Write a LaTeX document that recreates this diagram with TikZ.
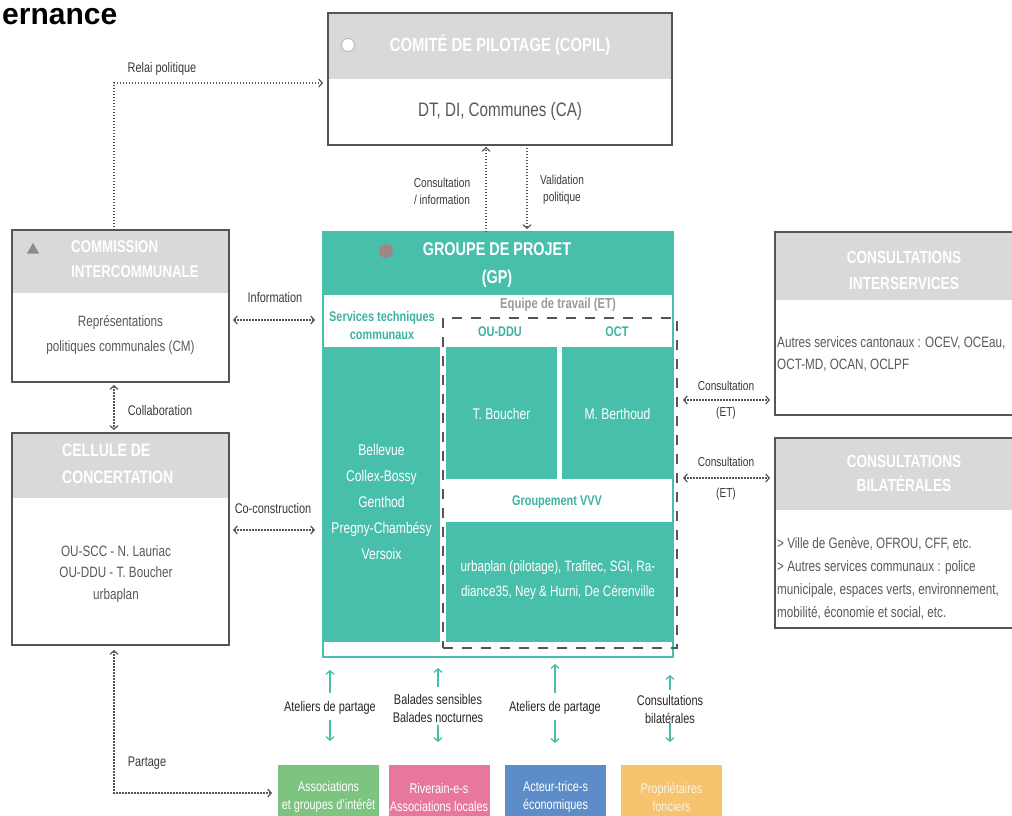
\documentclass[tikz,border=0pt]{standalone}
\usepackage{fontspec}
\setmainfont{Liberation Sans}[FakeStretch=0.78]
\newfontfamily\titlefont{Liberation Sans}
\usetikzlibrary{arrows.meta,shapes.geometric}
\definecolor{teal1}{HTML}{47BFAB}
\definecolor{ttxt}{HTML}{3DB3A0}
\definecolor{hdr}{HTML}{D9D9D9}
\definecolor{bord}{HTML}{555555}
\definecolor{txtg}{HTML}{595959}
\definecolor{lbl}{HTML}{3A3A3A}
\definecolor{etgray}{HTML}{9A9A9A}
\definecolor{gpdot}{HTML}{A08585}
\definecolor{trig}{HTML}{8C8C8C}
\definecolor{cgreen}{HTML}{7DC481}
\definecolor{cpink}{HTML}{E8779C}
\definecolor{cblue}{HTML}{5D8DC8}
\definecolor{corange}{HTML}{F6C46F}
\newcommand\fsz[2]{\fontsize{#1}{#2}\selectfont}
\begin{document}
\begin{tikzpicture}[x=1pt,y=-1pt,
  >={Straight Barb[length=3.5pt,width=8pt]},
  frame/.style={draw=bord,line width=1.3pt},
  plain/.style={inner sep=0pt,outer sep=0pt},
  hdrtxt/.style={text=white,font=\bfseries\fsz{17.5}{25},align=center,inner sep=0pt},
  bodytxt/.style={text=txtg,font=\fsz{15}{23},inner sep=0pt},
  lab/.style={text=lbl,font=\fsz{14}{17},align=center,inner sep=0pt},
  blab/.style={text=black!85,font=\fsz{14}{18},align=center,inner sep=0pt},
  darr/.style={draw=bord,line width=1.2pt,dash pattern=on 1.2pt off 1.8pt},
  tarr/.style={draw=teal1,line width=1.3pt,->},
  gptxt/.style={text=white,font=\fsz{15.5}{25.8},align=center,inner sep=0pt},
  gpsub/.style={text=ttxt,font=\bfseries\fsz{14}{18},align=center,inner sep=0pt},
  tealblk/.style={fill=teal1,inner sep=0pt,outer sep=0pt},
  hdrblk/.style={fill=hdr,inner sep=0pt,outer sep=0pt},
  stake/.style={inner sep=0pt,outer sep=0pt,text=white,font=\fsz{14}{18},align=center,minimum width=101pt,minimum height=64pt}
]
\useasboundingbox (0,0) rectangle (1012,816);
\clip (0,0) rectangle (1012,816);
\fill[white] (0,0) rectangle (1012,816);

% title
\node[anchor=base west,inner sep=0pt,font=\titlefont\bfseries\fsz{30}{30}] (title) at (2,25) {ernance};

% COPIL
\node[plain,fill=white,minimum width=344pt,minimum height=132pt] (copil) at (500,79) {};
\node[hdrblk,minimum width=344pt,minimum height=66pt] (copilh) at (500,46) {};
\draw[frame] (copil.north west) rectangle (copil.south east);
\node[circle,fill=white,draw=black!30,line width=0.8pt,minimum size=13pt,inner sep=0pt] (copildot) at (348,45) {};
\node[hdrtxt,font=\bfseries\fsz{19}{24}] (copilt) at (500,45) {COMITÉ DE PILOTAGE (COPIL)};
\node[bodytxt,font=\fsz{19.5}{24}] (copilb) at (500,111) {DT, DI, Communes (CA)};

% Commission intercommunale
\node[plain,fill=white,minimum width=217pt,minimum height=152pt] (comm) at (120.5,306) {};
\node[hdrblk,minimum width=217pt,minimum height=63pt] (commh) at (120.5,261.5) {};
\draw[frame] (comm.north west) rectangle (comm.south east);
\node[regular polygon,regular polygon sides=3,fill=trig,minimum size=14pt,inner sep=0pt] (commtri) at (33,250) {};
\node[hdrtxt,align=left,anchor=west,font=\bfseries\fsz{17}{25}] (commt) at (71,259.5) {COMMISSION\\INTERCOMMUNALE};
\node[bodytxt,align=center,font=\fsz{15}{25}] (commb) at (120.5,335.5) {Représentations\\politiques communales (CM)};

% Cellule de concertation
\node[plain,fill=white,minimum width=217pt,minimum height=212pt] (cell) at (120.5,539) {};
\node[hdrblk,minimum width=217pt,minimum height=65pt] (cellh) at (120.5,465.5) {};
\draw[frame] (cell.north west) rectangle (cell.south east);
\node[hdrtxt,align=left,anchor=west,font=\bfseries\fsz{18}{27}] (cellt) at (62,463.5) {CELLULE DE\\CONCERTATION};
\node[bodytxt,align=center,font=\fsz{15}{21.5}] (cellb) at (116,574) {OU-SCC - N. Lauriac\\OU-DDU - T. Boucher\\urbaplan};

% Groupe de projet
\node[plain,fill=white,minimum width=350pt,minimum height=425pt] (gp) at (498,444.5) {};
\node[tealblk,minimum width=350pt,minimum height=63pt] (gph) at (498,263.5) {};
\node[tealblk,minimum width=117pt,minimum height=295pt] (stc) at (381.5,494.5) {};
\node[tealblk,minimum width=111pt,minimum height=132pt] (tbb) at (501.5,413) {};
\node[tealblk,minimum width=111pt,minimum height=132pt] (mbb) at (617.5,413) {};
\node[tealblk,minimum width=227pt,minimum height=120pt] (vvvb) at (559.5,582) {};
\draw[draw=teal1,line width=1.5pt] (gp.north west) rectangle (gp.south east);
\node[plain,draw=bord,line width=2pt,dash pattern=on 10pt off 9pt,minimum width=234pt,minimum height=330pt] (et) at (560,483) {};

\node[circle,fill=gpdot,minimum size=14pt,inner sep=0pt] (gpdot) at (386,251) {};
\node[hdrtxt,font=\bfseries\fsz{18.5}{28}] (gpt) at (497,265) {GROUPE DE PROJET\\(GP)};
\node[gpsub] (stct) at (382,325) {Services techniques\\communaux};
\node[gpsub,text=etgray,font=\bfseries\fsz{14.5}{18}] (ett) at (558,305) {Equipe de travail (ET)};
\node[gpsub] (oudt) at (500,332) {OU-DDU};
\node[gpsub] (octt) at (617,332) {OCT};
\node[gptxt] (tbt) at (501.5,414) {T. Boucher};
\node[gptxt] (mbt) at (617.5,414) {M. Berthoud};
\node[gpsub] (vvvt) at (557,502) {Groupement VVV};
\node[gptxt,font=\fsz{15}{25}] (vvvl) at (558,580) {urbaplan (pilotage), Trafitec, SGI, Ra-\\diance35, Ney \& Hurni, De Cérenville};
\node[gptxt] (stcl) at (381.5,502) {Bellevue\\Collex-Bossy\\Genthod\\Pregny-Chambésy\\Versoix};

% Consultations interservices
\node[plain,fill=white,minimum width=258pt,minimum height=183pt] (inter) at (904,323.5) {};
\node[hdrblk,minimum width=258pt,minimum height=68pt] (interh) at (904,266) {};
\draw[frame] (inter.north west) rectangle (inter.south east);
\node[hdrtxt,font=\bfseries\fsz{17.5}{26}] (intert) at (904,270) {CONSULTATIONS\\INTERSERVICES};
\node[bodytxt,anchor=west,align=left,font=\fsz{15}{22}] (interb) at (777,354) {Autres services cantonaux : OCEV, OCEau,\\OCT-MD, OCAN, OCLPF};

% Consultations bilaterales
\node[plain,fill=white,minimum width=258pt,minimum height=190pt] (bilat) at (904,533) {};
\node[hdrblk,minimum width=258pt,minimum height=72pt] (bilath) at (904,474) {};
\draw[frame] (bilat.north west) rectangle (bilat.south east);
\node[hdrtxt,font=\bfseries\fsz{17.5}{24}] (bilatt) at (904,473.5) {CONSULTATIONS\\BILATÉRALES};
\node[bodytxt,anchor=west,align=left,font=\fsz{15}{23}] (bilatb) at (777,578) {> Ville de Genève, OFROU, CFF, etc.\\> Autres services communaux : police\\municipale, espaces verts, environnement,\\mobilité, économie et social, etc.};

% stakeholders
\node[stake,fill=cgreen] (green) at (328.5,797) {Associations\\et groupes d'intérêt};
\node[stake,fill=cpink] (pink) at (439,797) {Riverain-e-s\\Associations locales};
\node[stake,fill=cblue] (blue) at (555.5,797) {Acteur-trice-s\\économiques};
\node[stake,fill=corange,text=white!80!corange] (orange) at (671.5,797) {Propriétaires\\fonciers};

% bottom labels and teal arrows
\node[blab] (l1) at (330,708) {Ateliers de partage};
\node[blab] (l2) at (438,708) {Balades sensibles\\Balades nocturnes};
\node[blab] (l3) at (555,708) {Ateliers de partage};
\node[blab] (l4) at (670,709) {Consultations\\bilatérales};
\draw[tarr] ([yshift=15pt]l1.center) -- ([yshift=38pt]l1.center);
\draw[tarr] ([yshift=-12pt]l1.center) -- ([yshift=-33pt]l1.center);
\draw[tarr] ([yshift=21pt]l2.center) -- ([yshift=40pt]l2.center);
\draw[tarr] ([yshift=-17pt]l2.center) -- ([yshift=-34pt]l2.center);
\draw[tarr] ([yshift=15pt]l3.center) -- ([yshift=44pt]l3.center);
\draw[tarr] ([yshift=-12pt]l3.center) -- ([yshift=-35pt]l3.center);
\draw[tarr] ([yshift=19pt]l4.center) -- ([yshift=34pt]l4.center);
\draw[tarr] ([yshift=-14pt]l4.center) -- ([yshift=-33pt]l4.center);

% dotted connectors
\coordinate (relai) at (114,83);
\draw[darr,->,shorten >=5pt] (comm.north -| relai) -- (relai) -- (copil.west |- relai);
\coordinate (cons) at (486,0);
\draw[darr,->,shorten >=2pt] (gp.north -| cons) -- (copil.south -| cons);
\coordinate (valid) at (527,0);
\draw[darr,->,shorten >=3pt] (copil.south -| valid) -- (gp.north -| valid);
\coordinate (info) at (0,320);
\draw[darr,<->,shorten <=4pt,shorten >=8pt] (comm.east |- info) -- (gp.west |- info);
\coordinate (collab) at (114,0);
\draw[darr,<->,shorten <=3pt,shorten >=3pt] (comm.south -| collab) -- (cell.north -| collab);
\coordinate (cocon) at (0,530);
\draw[darr,<->,shorten <=4pt,shorten >=8pt] (cell.east |- cocon) -- (gp.west |- cocon);
\coordinate (cet1) at (0,400);
\draw[darr,<->,shorten <=6pt,shorten >=5pt] (et.east |- cet1) -- (inter.west |- cet1);
\coordinate (cet2) at (0,478);
\draw[darr,<->,shorten <=6pt,shorten >=5pt] (et.east |- cet2) -- (bilat.west |- cet2);
\coordinate (part) at (114,793);
\draw[darr,<->,shorten <=5pt,shorten >=6pt] (cell.south -| part) -- (part) -- (green.west |- part);

% connector labels
\node[lab] (relait) at (162,69) {Relai politique};
\node[lab,font=\fsz{13}{17}] (const) at (442,191) {Consultation\\/ information};
\node[lab,font=\fsz{13}{17}] (validt) at (562,190) {Validation\\politique};
\node[lab] (infot) at (275,297) {Information};
\node[lab] (collabt) at (160,410) {Collaboration};
\node[lab] (cocont) at (273,508) {Co-construction};
\node[lab,font=\fsz{13}{26}] (cet1t) at (726,400) {Consultation\\(ET)};
\node[lab,font=\fsz{13}{31}] (cet2t) at (726,478.5) {Consultation\\(ET)};
\node[lab] (partt) at (147,763) {Partage};
\end{tikzpicture}
\end{document}
